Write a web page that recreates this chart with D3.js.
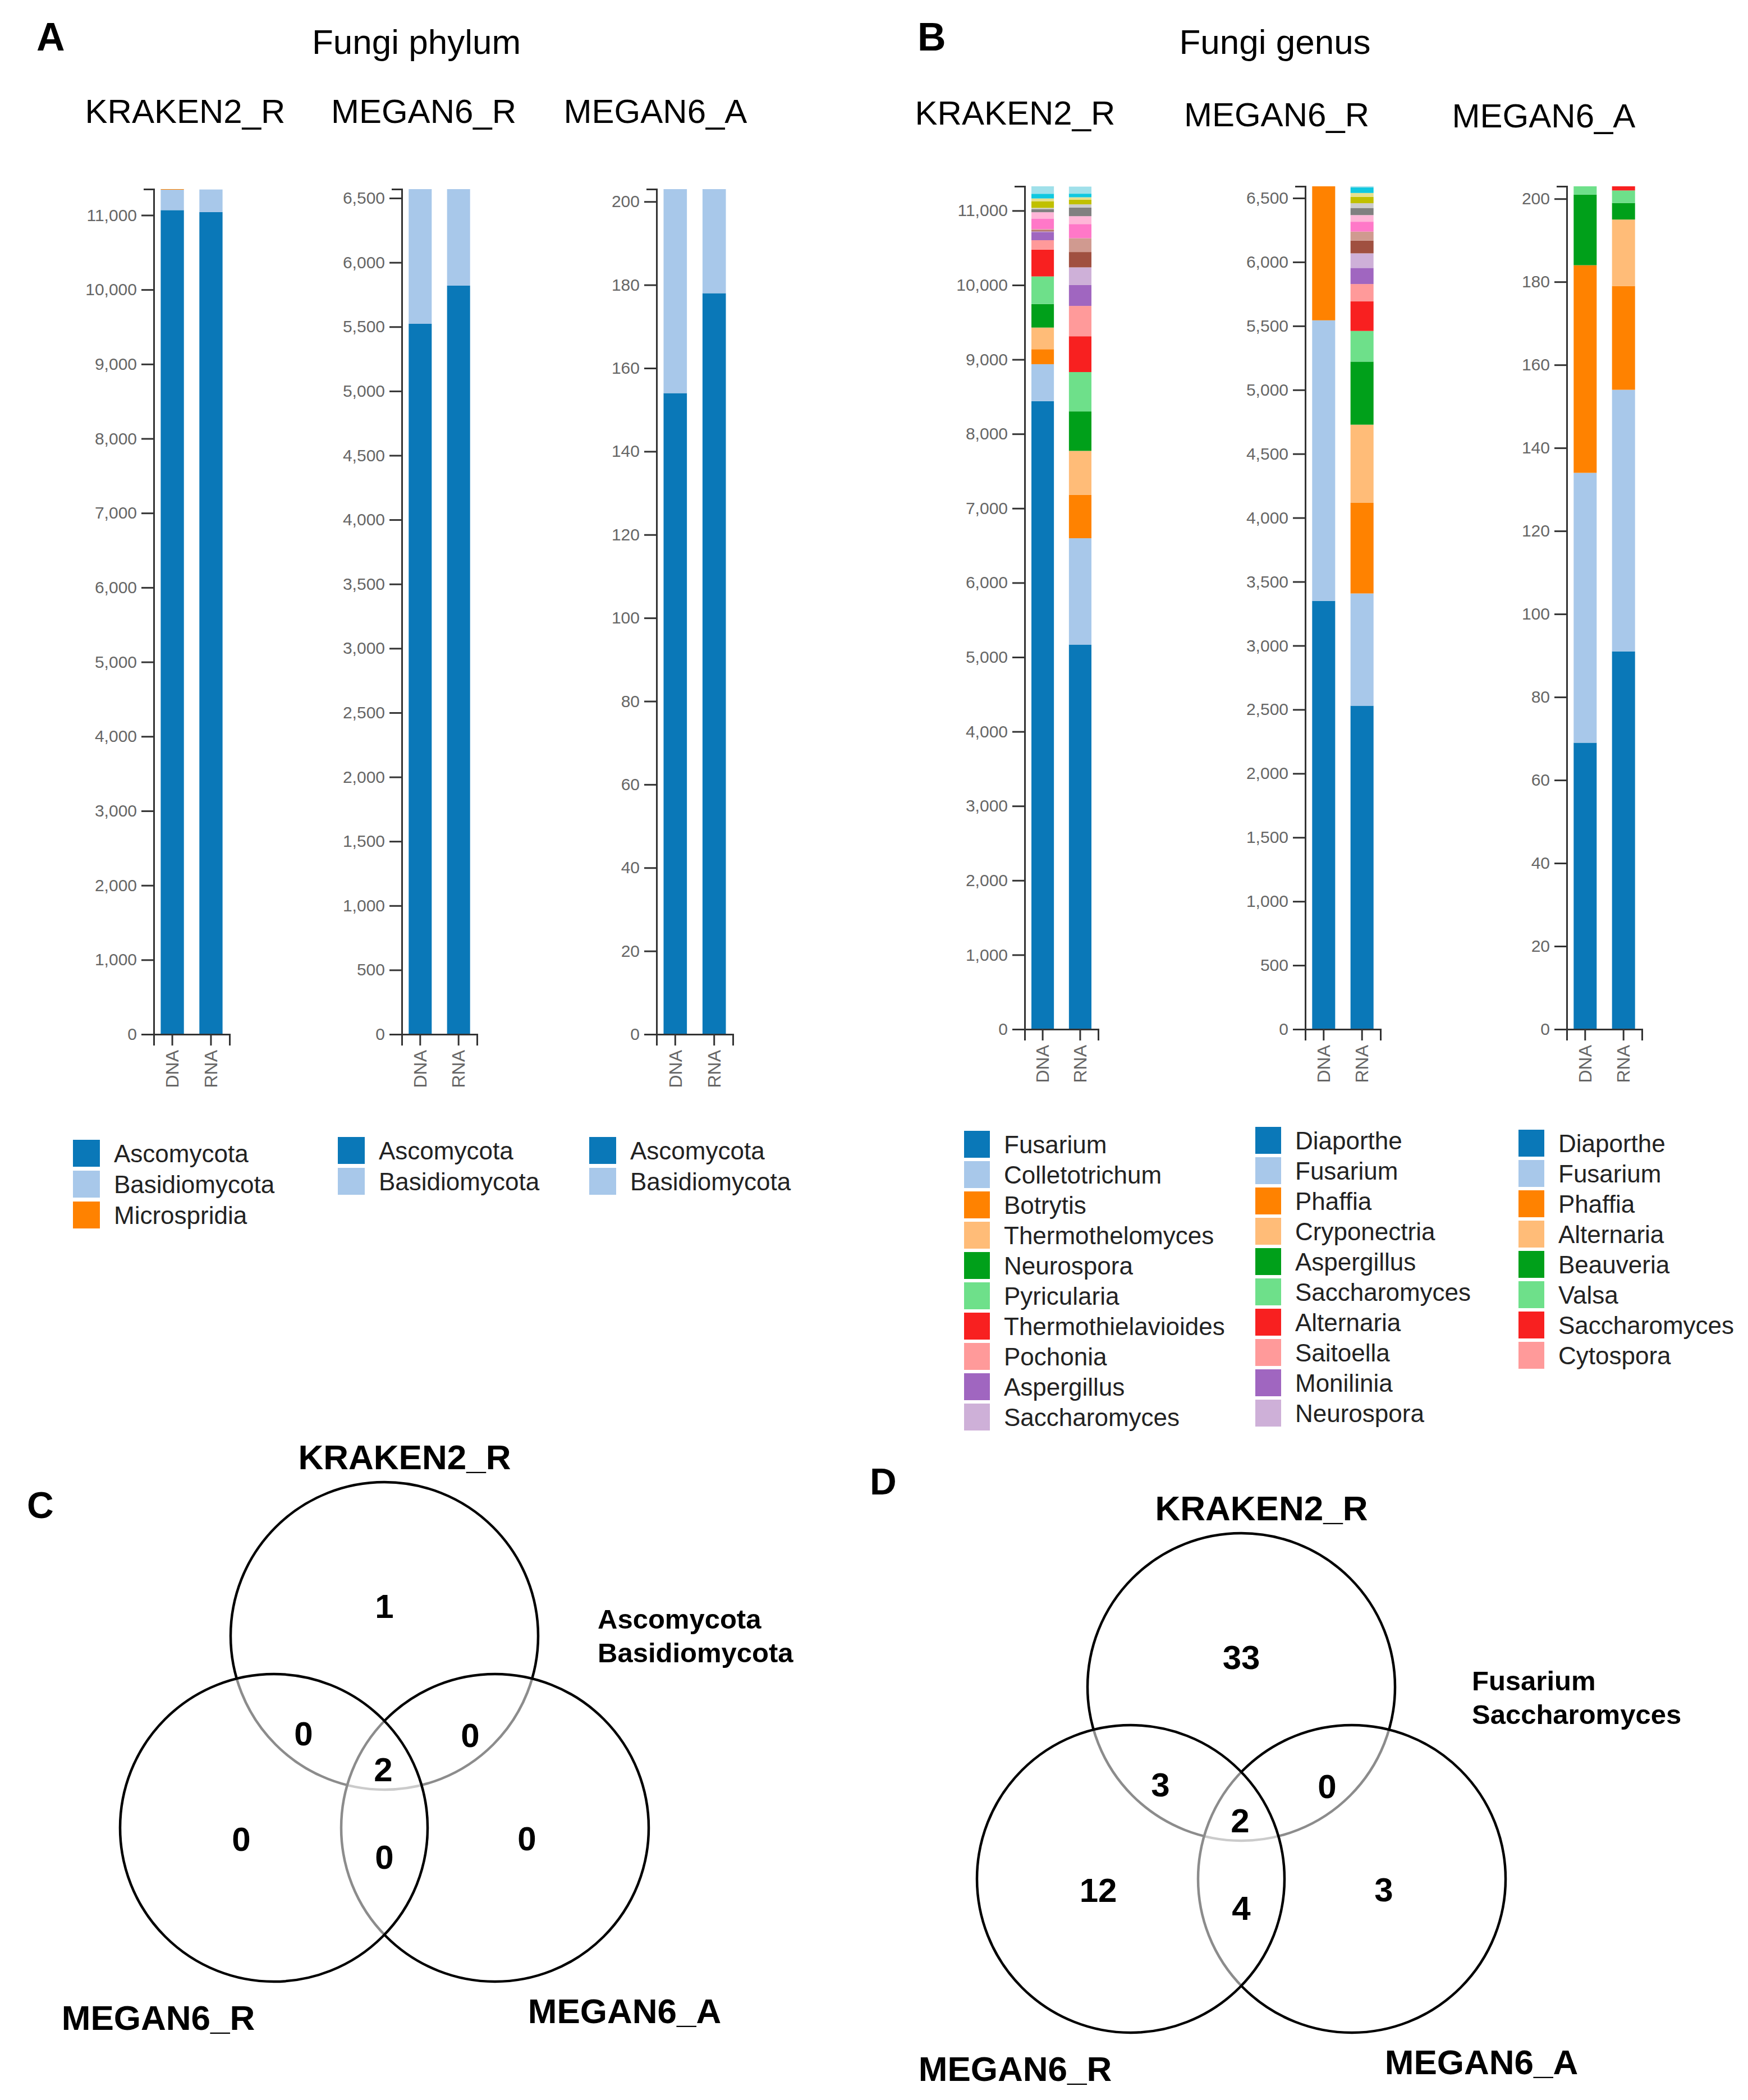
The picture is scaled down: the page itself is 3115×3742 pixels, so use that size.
<!DOCTYPE html>
<html>
<head>
<meta charset="utf-8">
<script src="https://cdn.jsdelivr.net/npm/d3@7"></script>
<style>
  body { margin: 0; background: #fff; }
  text { font-family: "Liberation Sans", Arial, sans-serif; }
</style>
</head>
<body>
<div id="chart"></div>
<script>

// ---- data ----
const samples = ["DNA", "RNA"];

const palette = ["#0a78b8", "#a8c8ea", "#ff8200", "#ffbc78", "#00a01a", "#6ee08a",
                 "#f82020", "#ff9a9a", "#a066c0", "#ceb0d8", "#a05040", "#d09a90",
                 "#ff78c8", "#ffb6d8", "#808080", "#cccccc", "#c0c000", "#e6e090",
                 "#10c8e0", "#a0e0ea"];

const phylumNames = ["Ascomycota", "Basidiomycota", "Microspridia"];
const krakenPhylumDNA = [11068, 274, 8];
const krakenPhylumRNA = [11042, 303, 0];
const megan6RPhylumDNA = [5523, 1047];
const megan6RPhylumRNA = [5820, 750];
const megan6APhylumDNA = [154, 49];
const megan6APhylumRNA = [178, 25];

const krakenGenusNames = ["Fusarium", "Colletotrichum", "Botrytis", "Thermothelomyces", "Neurospora",
                          "Pyricularia", "Thermothielavioides", "Pochonia", "Aspergillus", "Saccharomyces"];
// 20 genera each, only the first ten are named in the legend
const krakenGenusDNA = [8440, 497, 201, 291, 317, 370, 360, 127, 111, 8,
                        14, 15, 143, 85, 42, 16, 90, 37, 63, 100];
const krakenGenusRNA = [5169, 1429, 582, 592, 530, 529, 481, 408, 280, 238,
                        206, 186, 190, 106, 116, 43, 63, 32, 48, 95];

const megan6RGenusNames = ["Diaporthe", "Fusarium", "Phaffia", "Cryponectria", "Aspergillus",
                           "Saccharomyces", "Alternaria", "Saitoella", "Monilinia", "Neurospora"];
const megan6RGenusDNA = [3350, 2194, 1048, 0, 0, 0, 0, 0, 0, 0,
                         0, 0, 0, 0, 0, 0, 0, 0, 0, 0];
const megan6RGenusRNA = [2530, 878, 709, 611, 493, 240, 231, 136, 126, 114,
                         99, 71, 77, 52, 56, 37, 49, 31, 43, 9];

const megan6AGenusNames = ["Diaporthe", "Fusarium", "Phaffia", "Alternaria", "Beauveria",
                           "Valsa", "Saccharomyces", "Cytospora"];
const megan6AGenusDNA = [69, 65, 50, 0, 17, 2, 0, 0];
const megan6AGenusRNA = [91, 63, 25, 16, 4, 3, 1, 0];

const krakenTicks = [0, 1000, 2000, 3000, 4000, 5000, 6000, 7000, 8000, 9000, 10000, 11000];
const megan6RTicks = [0, 500, 1000, 1500, 2000, 2500, 3000, 3500, 4000, 4500, 5000, 5500, 6000, 6500];
const megan6ATicks = [0, 20, 40, 60, 80, 100, 120, 140, 160, 180, 200];

const vennSets = ["KRAKEN2_R", "MEGAN6_R", "MEGAN6_A"];
// regions: K only, K&MR, K&MA, all, MR only, MR&MA, MA only
const vennPhylumCounts = [1, 0, 0, 2, 0, 0, 0];
const vennGenusCounts = [33, 3, 0, 2, 12, 4, 3];
const vennPhylumShared = ["Ascomycota", "Basidiomycota"];
const vennGenusShared = ["Fusarium", "Saccharomyces"];

// ---- page ----
const width = 3115, height = 3742;
const svg = d3.select("#chart").append("svg")
    .attr("width", width)
    .attr("height", height)
    .style("background", "#fff");

function stackChart(opt) {
    const keys = opt.dna.map((d, i) => "s" + i);
    const rows = [opt.dna, opt.rna].map(function(vals, j) {
        const r = { sample: samples[j] };
        vals.forEach((v, i) => r["s" + i] = v);
        return r;
    });
    const series = d3.stack().keys(keys)(rows);

    const x = d3.scaleBand()
        .domain(samples)
        .range([opt.left, opt.right])
        .paddingInner(0.4)
        .paddingOuter(0.18);

    const y = d3.scaleLinear()
        .domain([0, d3.max(series[series.length - 1], d => d[1])])
        .range([opt.bottom, opt.top]);

    const g = svg.append("g");

    g.selectAll("g.layer")
        .data(series)
        .join("g")
        .attr("class", "layer")
        .attr("fill", (d, i) => palette[i % palette.length])
        .selectAll("rect")
        .data(d => d)
        .join("rect")
            .attr("x", d => x(d.data.sample))
            .attr("width", x.bandwidth())
            .attr("y", d => y(d[1]))
            .attr("height", d => y(d[0]) - y(d[1]));

    const yAxis = g.append("g")
        .attr("transform", `translate(${opt.left},0)`)
        .call(d3.axisLeft(y).tickValues(opt.ticks).tickFormat(d3.format(",")).tickSize(22).tickSizeOuter(18));

    const xAxis = g.append("g")
        .attr("transform", `translate(0,${opt.bottom})`)
        .call(d3.axisBottom(x).tickSize(20).tickSizeOuter(20));

    [yAxis, xAxis].forEach(function(a) {
        a.attr("font-family", "'Open Sans', sans-serif");
        a.select(".domain").attr("stroke", "#333").attr("stroke-width", 3);
        a.selectAll(".tick line").attr("stroke", "#333").attr("stroke-width", 3);
        a.selectAll(".tick text").attr("fill", "#666");
    });

    yAxis.selectAll(".tick text")
        .attr("font-size", 30)
        .attr("x", -30);

    xAxis.selectAll(".tick text")
        .attr("font-size", 32)
        .attr("transform", "rotate(-90)")
        .attr("x", -28)
        .attr("y", 0)
        .attr("dy", "0.35em")
        .attr("text-anchor", "end");
}

function legend(names, x, y, pitch, sw, sh, fontSize) {
    const g = svg.append("g").attr("transform", `translate(${x},${y})`);
    const item = g.selectAll("g")
        .data(names)
        .join("g")
        .attr("transform", (d, i) => `translate(0,${i * pitch})`);
    item.append("rect")
        .attr("width", sw)
        .attr("height", sh)
        .attr("fill", (d, i) => palette[i]);
    item.append("text")
        .attr("x", sw + 25)
        .attr("y", sh * 0.83)
        .attr("font-size", fontSize)
        .attr("fill", "#222")
        .text(d => d);
}

function venn(cx, cy, counts, shared, noteX, noteY) {
    const r = 274;
    const centers = { top: [cx, cy], left: [cx - 197, cy + 342], right: [cx + 197, cy + 342] };
    const g = svg.append("g");

    // drawing order top, right, left with half transparent white fill greys the inner arcs
    ["top", "right", "left"].forEach(function(k) {
        g.append("circle")
            .attr("cx", centers[k][0])
            .attr("cy", centers[k][1])
            .attr("r", r)
            .attr("fill", "#fff")
            .attr("fill-opacity", 0.55)
            .attr("stroke", "#000")
            .attr("stroke-width", 4.5);
    });

    const spots = [[0, -54], [-144, 173], [153, 176], [-2, 237], [-255, 361], [0, 393], [254, 360]];
    g.selectAll("text.count")
        .data(counts)
        .join("text")
        .attr("class", "count")
        .attr("x", (d, i) => cx + spots[i][0])
        .attr("y", (d, i) => cy + spots[i][1])
        .attr("dy", "0.36em")
        .attr("text-anchor", "middle")
        .attr("font-size", 60)
        .attr("font-weight", "bold")
        .text(d => d);

    const labelSpots = [[36, -297], [-403, 702], [428, 690]];
    g.selectAll("text.set")
        .data(vennSets)
        .join("text")
        .attr("class", "set")
        .attr("x", (d, i) => cx + labelSpots[i][0])
        .attr("y", (d, i) => cy + labelSpots[i][1])
        .attr("text-anchor", "middle")
        .attr("font-size", 62)
        .attr("font-weight", "bold")
        .text(d => d);

    g.selectAll("text.note")
        .data(shared)
        .join("text")
        .attr("class", "note")
        .attr("x", noteX)
        .attr("y", (d, i) => noteY + i * 60)
        .attr("font-size", 49)
        .attr("font-weight", "bold")
        .text(d => d);
}

function label(t, x, y, size, weight, anchor) {
    svg.append("text")
        .attr("x", x)
        .attr("y", y)
        .attr("font-size", size)
        .attr("font-weight", weight || "normal")
        .attr("text-anchor", anchor || "start")
        .text(t);
}

// ---- panel A ----
label("A", 65, 90, 70, "bold");
label("Fungi phylum", 742, 96, 62, "normal", "middle");
label("KRAKEN2_R", 330, 219, 60, "normal", "middle");
label("MEGAN6_R", 755, 219, 60, "normal", "middle");
label("MEGAN6_A", 1168, 219, 60, "normal", "middle");

stackChart({ left: 274, right: 409, top: 337, bottom: 1843, dna: krakenPhylumDNA, rna: krakenPhylumRNA, ticks: krakenTicks });
stackChart({ left: 716, right: 850, top: 337, bottom: 1843, dna: megan6RPhylumDNA, rna: megan6RPhylumRNA, ticks: megan6RTicks });
stackChart({ left: 1170, right: 1306, top: 337, bottom: 1843, dna: megan6APhylumDNA, rna: megan6APhylumRNA, ticks: megan6ATicks });

legend(phylumNames, 130, 2031, 55, 48, 48, 44);
legend(phylumNames.slice(0, 2), 602, 2026, 55, 48, 48, 44);
legend(phylumNames.slice(0, 2), 1050, 2026, 55, 48, 48, 44);

// ---- panel B ----
label("B", 1635, 90, 70, "bold");
label("Fungi genus", 2272, 96, 62, "normal", "middle");
label("KRAKEN2_R", 1809, 222, 60, "normal", "middle");
label("MEGAN6_R", 2275, 225, 60, "normal", "middle");
label("MEGAN6_A", 2751, 227, 60, "normal", "middle");

stackChart({ left: 1826, right: 1957, top: 332, bottom: 1834, dna: krakenGenusDNA, rna: krakenGenusRNA, ticks: krakenTicks });
stackChart({ left: 2326, right: 2460, top: 332, bottom: 1834, dna: megan6RGenusDNA, rna: megan6RGenusRNA, ticks: megan6RTicks });
stackChart({ left: 2792, right: 2926, top: 332, bottom: 1834, dna: megan6AGenusDNA, rna: megan6AGenusRNA, ticks: megan6ATicks });

legend(krakenGenusNames, 1718, 2015, 54, 46, 48, 44);
legend(megan6RGenusNames, 2237, 2008, 54, 46, 48, 44);
legend(megan6AGenusNames, 2706, 2013, 54, 46, 48, 44);

// ---- panels C and D ----
label("C", 48, 2705, 66, "bold");
venn(685, 2915, vennPhylumCounts, vennPhylumShared, 1065, 2902);

label("D", 1550, 2663, 66, "bold");
venn(2212, 3006, vennGenusCounts, vennGenusShared, 2623, 3012);

</script>
</body>
</html>
